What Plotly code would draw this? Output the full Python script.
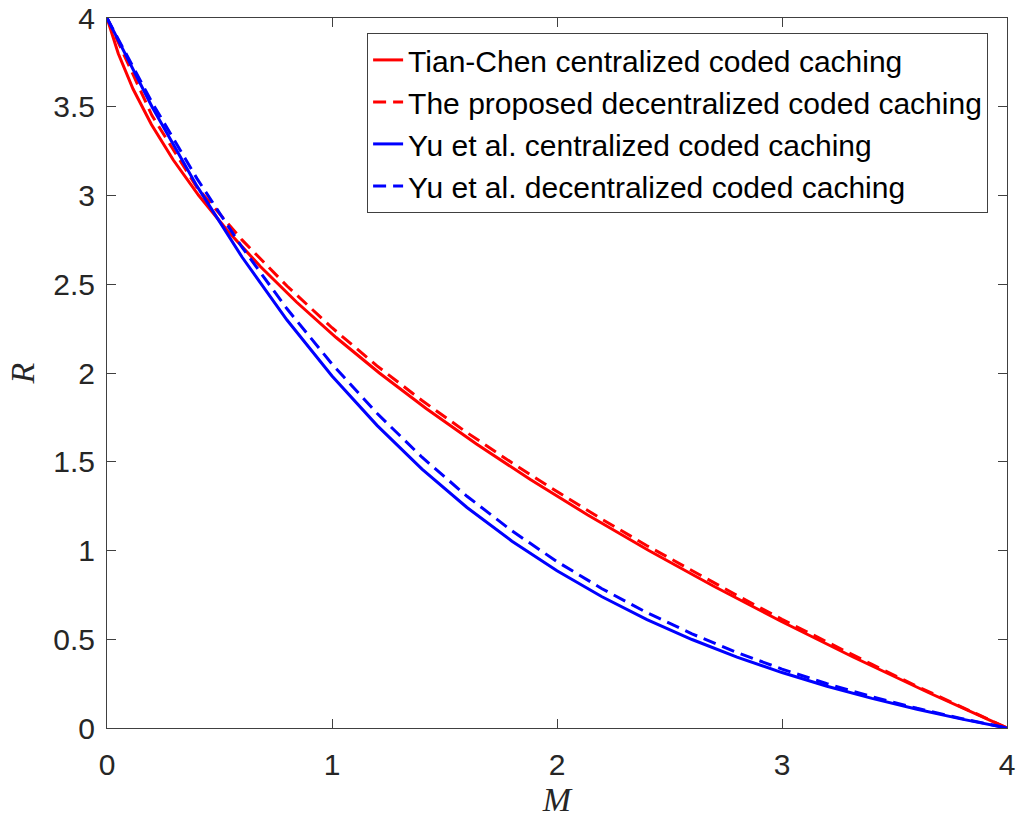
import plotly.graph_objects as go

# Tian-Chen centralized coded caching (corner points)
tc_M = [0, 0.05, 0.1158, 0.1974, 0.2947, 0.4079, 0.5368, 0.6816, 0.8421, 1.0184,
        1.2105, 1.4184, 1.6421, 1.8816, 2.1368, 2.4079, 2.6947, 2.9974, 3.3158, 3.65, 4.0]
tc_R = [4.0, 3.8, 3.6, 3.4, 3.2, 3.0, 2.8, 2.6, 2.4, 2.2,
        2.0, 1.8, 1.6, 1.4, 1.2, 1.0, 0.8, 0.6, 0.4, 0.2, 0.0]

# Common memory grid for the other three curves
M_grid = [0, 0.2, 0.4, 0.6, 0.8, 1.0, 1.2, 1.4, 1.6, 1.8, 2.0,
          2.2, 2.4, 2.6, 2.8, 3.0, 3.2, 3.4, 3.6, 3.8, 4.0]

# The proposed decentralized coded caching
prop_R = [4.0, 3.45, 3.045, 2.75, 2.49, 2.255, 2.04, 1.845, 1.664, 1.494, 1.332,
          1.176, 1.027, 0.885, 0.747, 0.612, 0.484, 0.358, 0.235, 0.117, 0.0]

# Yu et al. centralized coded caching
yuc_R = [4.0, 3.5, 3.0526, 2.6535, 2.2984, 1.9835, 1.7049, 1.459, 1.2425, 1.0523, 0.8855,
         0.7392, 0.6109, 0.4985, 0.3996, 0.3124, 0.2353, 0.1667, 0.1053, 0.05, 0.0]

# Yu et al. decentralized coded caching
yud_R = [4.0, 3.5244, 3.0951, 2.7086, 2.3616, 2.0508, 1.7731, 1.5256, 1.3056, 1.1104, 0.9375,
         0.7846, 0.6496, 0.5304, 0.4251, 0.332, 0.2496, 0.1764, 0.1111, 0.0526, 0.0]

x_ticks = [0, 1, 2, 3, 4]
y_ticks = [0, 0.5, 1, 1.5, 2, 2.5, 3, 3.5, 4]
y_tick_text = ["0", "0.5", "1", "1.5", "2", "2.5", "3", "3.5", "4"]

names = ["Tian-Chen centralized coded caching",
         "The proposed decentralized coded caching",
         "Yu et al. centralized coded caching",
         "Yu et al. decentralized coded caching"]

RED = "#FF0000"
BLUE = "#0000FF"
DASH = "13px,7px"

fig = go.Figure()
fig.add_trace(go.Scatter(x=tc_M, y=tc_R, mode="lines", name=names[0],
                         line=dict(color=RED, width=3)))
fig.add_trace(go.Scatter(x=M_grid, y=prop_R, mode="lines", name=names[1],
                         line=dict(color=RED, width=3, dash=DASH)))
fig.add_trace(go.Scatter(x=M_grid, y=yuc_R, mode="lines", name=names[2],
                         line=dict(color=BLUE, width=3)))
fig.add_trace(go.Scatter(x=M_grid, y=yud_R, mode="lines", name=names[3],
                         line=dict(color=BLUE, width=3, dash=DASH)))

axis_common = dict(
    showgrid=False, zeroline=False, showline=True, linecolor="#404040", linewidth=1,
    mirror="ticks", ticks="inside", ticklen=9, tickcolor="#404040", tickwidth=1,
    tickfont=dict(family="Liberation Sans, Arial, sans-serif", size=30, color="#262626"),
    automargin=False, ticklabeloverflow="allow",
)

fig.update_layout(
    width=1020, height=822,
    margin=dict(l=107, r=13, t=18, b=94),
    paper_bgcolor="white", plot_bgcolor="white",
    xaxis=dict(range=[0, 4], tickvals=x_ticks, ticktext=[str(v) for v in x_ticks],
               ticklabelstandoff=10,
               title=dict(text="<i>M</i>", standoff=4,
                          font=dict(family="Liberation Serif, Times New Roman, serif", size=34, color="#262626")),
               **axis_common),
    yaxis=dict(range=[0, 4], tickvals=y_ticks, ticktext=y_tick_text,
               ticklabelstandoff=5,
               title=dict(text="<i>R</i>", standoff=8,
                          font=dict(family="Liberation Serif, Times New Roman, serif", size=34, color="#262626")),
               **axis_common),
    legend=dict(x=0.979, y=0.979, xanchor="right", yanchor="top",
                bgcolor="white", bordercolor="#404040", borderwidth=1,
                font=dict(family="Liberation Sans, Arial, sans-serif", size=30, color="black"),
                tracegroupgap=0),
    showlegend=True,
)

fig.write_html("out.html")
